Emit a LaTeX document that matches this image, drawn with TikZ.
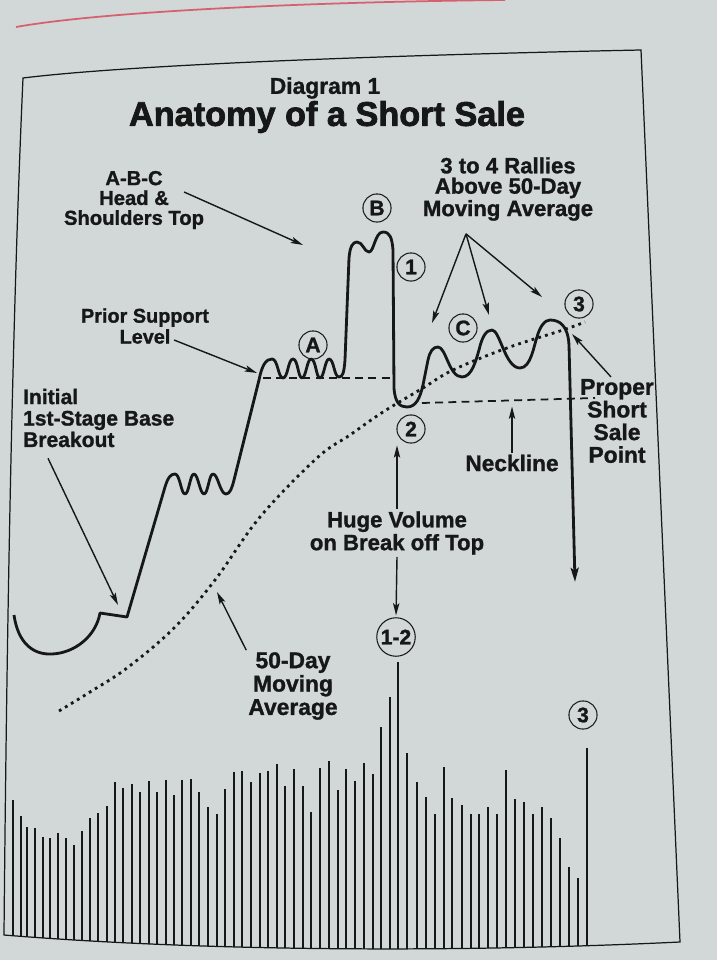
\documentclass[tikz,border=0pt]{standalone}
\usepackage{fontspec}
\setmainfont{Liberation Sans}
\newfontfamily\heavy{Liberation Sans Bold}[FakeBold=1.2]
\newfontfamily\blackface{Liberation Sans Bold}[FakeBold=2.2]
\usepackage{xcolor}
\usepackage{tikz}
\usetikzlibrary{arrows.meta,calc}

\definecolor{paper}{RGB}{210,215,216}
\definecolor{ink}{RGB}{22,24,24}
\definecolor{pagered}{RGB}{214,96,112}

\begin{document}
\begin{tikzpicture}[x=0.02cm, y=-0.02cm,
  lbl/.style 2 args={font=\heavy\fontsize{#1}{#2}\selectfont, align=center, inner sep=1pt, text=ink},
  circ/.style={circle, draw=ink, line width=0.6pt, inner sep=1pt, minimum size=16pt, text=ink, font=\heavy\fontsize{12}{12}\selectfont},
  arr/.style={draw=ink, line width=0.8pt, -{Stealth[length=7pt,width=3.6pt,inset=1.5pt]}},
  price/.style={draw=ink, line width=1.6pt, line join=round, -{Stealth[length=8pt,width=4.5pt,inset=1.5pt]}},
  level/.style={draw=ink, line width=1pt, dash pattern=on 4.5pt off 3pt},
  avg/.style={draw=ink, line width=1.6pt, dash pattern=on 1.6pt off 2.4pt},
  bar/.style={draw=ink, line width=1pt}]

% Page
\fill[paper] (0,0) rectangle (717,960);
\useasboundingbox (0,0) rectangle (717,960);
\draw[pagered, line width=1pt] (16,27) .. controls (100,12) and (300,2) .. (505,0);

% Volume bars
\begin{scope}
\clip (0,600) -- (717,600) -- (680,942) .. controls (450,953) and (200,951) .. (4,935) -- cycle;
\foreach \x/\y in {13/800, 21/816, 27/827, 35/828, 43/837, 50/838, 58/833, 66/838, 74/845,
  82/831, 90/818, 98/813, 107/806, 115/782, 123/788, 132/784, 140/792, 149/781, 157/792,
  166/780, 174/795, 182/780, 191/779, 199/792, 208/807, 217/814, 225/789, 234/772, 242/771,
  251/782, 260/773, 268/771, 277/764, 285/786, 294/769, 303/786, 311/812, 320/768, 329/761,
  338/790, 346/769, 355/781, 364/763, 373/774, 381/727, 390/697, 398/662, 407/753, 417/782,
  426/797, 435/814, 444/767, 452/798, 462/805, 471/814, 479/814, 488/807, 497/814, 506/770,
  515/799, 524/802, 533/814, 542/807, 551/818, 560/838, 569/867, 578/878, 587/748}
  \draw[bar] (\x,\y) -- (\x,960);
\end{scope}

% Frame
\draw[ink, line width=0.7pt] (23,78) .. controls (120,66) and (350,56) .. (641,50) -- (680,942)
  .. controls (450,953) and (200,951) .. (4,935) .. controls (7,600) and (13,300) .. (23,78) -- cycle;

% Support level and neckline
\coordinate (supL) at (263,378);
\coordinate (supR) at (392,378);
\coordinate (nkL) at (422,403);
\coordinate (nkR) at (595,398);
\draw[level] (supL) -- (supR);
\draw[level] (nkL) -- (nkR);

% 50-day moving average
\draw[avg] plot[smooth, tension=0.6] coordinates {(59,711) (90,692) (127,668) (174,628) (215,580)
  (260,517) (317,458) (350,435) (383,412) (423,388) (453,370) (507,348) (563,330) (585,322)};

% Price
\draw[price] (14,615)
  .. controls (18,643) and (33,655) .. (52,654)
  .. controls (75,653) and (96,636) .. (100,613)
  -- (127,617) -- (165,487)
  .. controls (168,477) and (171,474) .. (175,474)
  .. controls (180,474) and (181,494) .. (185,494)
  .. controls (189,494) and (190,474) .. (194,474)
  .. controls (198,474) and (200,494) .. (204,494)
  .. controls (208,494) and (209,474) .. (213,474)
  .. controls (218,474) and (220,494) .. (226,494)
  .. controls (230,494) and (232,488) .. (234,480)
  -- (259,380)
  .. controls (262,365) and (266,359) .. (272,359)
  .. controls (278,359) and (278,378) .. (283,378)
  .. controls (288,378) and (288,359) .. (293,359)
  .. controls (298,359) and (298,378) .. (302,378)
  .. controls (306,378) and (307,359) .. (311,359)
  .. controls (316,359) and (316,378) .. (320,378)
  .. controls (324,378) and (325,359) .. (329,359)
  .. controls (334,359) and (334,377) .. (339,377)
  .. controls (343,377) and (344,372) .. (345,360)
  -- (349,258)
  .. controls (350,246) and (353,242) .. (357,242)
  .. controls (363,242) and (364,252) .. (369,252)
  .. controls (374,252) and (375,232) .. (383,232)
  .. controls (390,232) and (392,238) .. (393,250)
  -- (394,388)
  .. controls (395,403) and (400,407) .. (407,407)
  .. controls (416,407) and (420,398) .. (423,385)
  -- (428,360)
  .. controls (430,351) and (433,347) .. (438,347)
  .. controls (446,347) and (449,377) .. (462,377)
  .. controls (472,377) and (476,360) .. (479,350)
  .. controls (482,337) and (486,330) .. (492,330)
  .. controls (500,330) and (505,368) .. (520,368)
  .. controls (531,368) and (534,345) .. (537,337)
  .. controls (540,326) and (545,320) .. (550,320)
  .. controls (560,320) and (568,326) .. (569,345)
  -- (575,582);

% Points the labels point at
\coordinate (hsTip) at (303,245);
\coordinate (psTip) at (257,373);
\coordinate (boTip) at (118,605);
\coordinate (r1) at (432,323);
\coordinate (r2) at (489,315);
\coordinate (r3) at (542,297);
\coordinate (maTip) at (217,592);
\coordinate (pssTip) at (572,334);

% Titles
\node[lbl={13}{13}] (dg) at (325,88) {Diagram 1};
\node[lbl={19.5}{20}, font=\blackface\fontsize{19.5}{20}\selectfont] (ttl) at (327,117) {Anatomy of a Short Sale};

% Labels
\node[lbl={11.5}{11.3}] (hs) at (134,200) {A-B-C\\Head \&\\Shoulders Top};
\node[lbl={12.6}{11.6}] (ra) at (508,189) {3 to 4 Rallies\\Above 50-Day\\Moving Average};
\node[lbl={11.3}{11.9}] (ps) at (145,326) {Prior Support\\Level};
\node[lbl={12}{12.2}, align=left, anchor=west] (bo) at (21,418) {Initial\\1st-Stage Base\\Breakout};
\node[lbl={13}{12.9}] (pss) at (617,421) {Proper\\Short\\Sale\\Point};
\node[lbl={12.9}{13}] (nk) at (512,463) {Neckline};
\node[lbl={12.6}{13}] (hv) at (397,533) {Huge Volume\\on Break off Top};
\node[lbl={13}{13.3}] (ma) at (293,686) {50-Day\\Moving\\Average};

% Circled points
\node[circ] (cA) at (313,345) {A};
\node[circ] (cB) at (377,208) {B};
\node[circ] (cC) at (463,328) {C};
\node[circ] (c1) at (411,267) {1};
\node[circ] (c2) at (411,429) {2};
\node[circ] (c3) at (579,304) {3};
\node[circ] (c12) at (396,637) {1-2};
\node[circ] (c3b) at (583,715) {3};

% Arrows
\draw[arr] ($(hs.east)+(-22,-8)$) -- (hsTip);
\draw[arr] ($(ps.east)+(-37,14)$) -- (psTip);
\draw[arr] ($(bo.south west)+(27,9)$) -- (boTip);
\foreach \t in {r1,r2,r3}
  \draw[arr] ($(ra.south)+(-42,11)$) -- (\t);
\draw[arr] (ma.north west) -- (maTip);
\draw[arr] ($(pss.north)+(-6,0)$) -- (pssTip);
\draw[arr, shorten >=2pt] (nk.north) -- (nk.north |- nkL);
\draw[arr, shorten >=1pt] (hv.north) -- (hv.north |- c2.south);
\draw[arr, shorten >=1pt] (hv.south) -- (c12.north);
\end{tikzpicture}
\end{document}
